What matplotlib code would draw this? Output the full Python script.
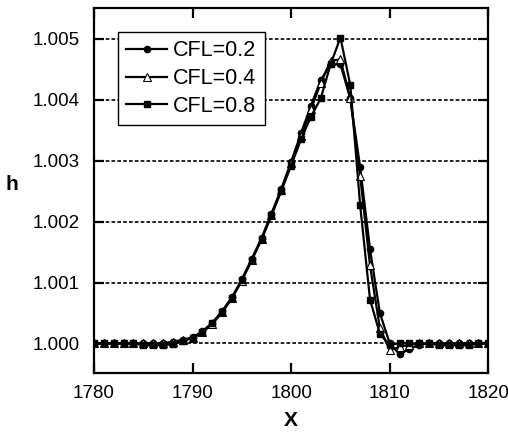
import matplotlib
matplotlib.use("Agg")
import matplotlib.pyplot as plt
from matplotlib.ticker import FormatStrFormatter

plt.rcParams['font.family'] = ['Liberation Sans', 'DejaVu Sans']

x = list(range(1780, 1821))

cfl_02 = [1.0000] * 8 + [
    1.00003, 1.00006, 1.00010, 1.00020, 1.00034, 1.00053, 1.00076, 1.00105,
    1.00139, 1.00173, 1.00213, 1.00254, 1.00298, 1.00345, 1.00390, 1.00432,
    1.00458, 1.00458, 1.00402, 1.00289, 1.00155, 1.00050, 1.00000, 0.99982,
    0.99991, 0.99998] + [1.0000] * 7

cfl_04 = [1.0000] * 8 + [
    1.00002, 1.00005, 1.00009, 1.00018, 1.00032, 1.00051, 1.00074, 1.00103,
    1.00137, 1.00171, 1.00211, 1.00252, 1.00296, 1.00340, 1.00384, 1.00427,
    1.00464, 1.00466, 1.00402, 1.00275, 1.00128, 1.00025, 0.99989, 0.99994,
    0.99998, 1.00000] + [1.0000] * 7

cfl_08 = [1.0000] * 5 + [0.99997, 0.99997, 0.99997] + [
    0.99999, 1.00004, 1.00009, 1.00019, 1.00033, 1.00052, 1.00075, 1.00104,
    1.00137, 1.00171, 1.00210, 1.00250, 1.00292, 1.00335, 1.00372, 1.00402,
    1.00458, 1.00502, 1.00424, 1.00227, 1.00072, 1.00016, 0.99997, 1.00001,
    1.00000, 1.00000] + [1.0000, 0.99997, 0.99997, 0.99997, 0.99997, 1.0000, 1.0000]

labels = ['CFL=0.2', 'CFL=0.4', 'CFL=0.8']
x_ticks = [1780, 1790, 1800, 1810, 1820]
y_ticks = [1.000, 1.001, 1.002, 1.003, 1.004, 1.005]

fig = plt.figure(figsize=(5.08, 4.32), dpi=100)
ax = fig.add_axes([94/508, 1 - 372.7/432, (488.3 - 94)/508, (372.7 - 8.3)/432])

ax.plot(x, cfl_02, color='black', lw=1.6, marker='o', ms=4.5,
        mfc='black', mec='black', label=labels[0], zorder=3)
ax.plot(x, cfl_04, color='black', lw=1.6, marker='^', ms=5.5,
        mfc='white', mec='black', mew=0.8, label=labels[1], zorder=4)
ax.plot(x, cfl_08, color='black', lw=1.6, marker='s', ms=4,
        mfc='black', mec='black', label=labels[2], zorder=5)

ax.set_xlim(1780, 1820)
ax.set_ylim(0.99952, 1.0055)
ax.set_xticks(x_ticks)
ax.set_yticks(y_ticks)
ax.yaxis.set_major_formatter(FormatStrFormatter('%.3f'))

ax.yaxis.grid(True, color='black', linestyle=(0, (2.2, 1.3)), lw=1.2)
ax.xaxis.grid(False)
ax.set_axisbelow(True)

for sp in ax.spines.values():
    sp.set_linewidth(1.6)

ax.tick_params(axis='both', direction='in', length=7, width=1.6,
               top=True, right=True, labelsize=13.5)
ax.tick_params(axis='x', pad=9)
ax.tick_params(axis='y', pad=10)

ax.set_xlabel('X', fontsize=15, fontweight='bold', labelpad=6)
ax.set_ylabel('h', fontsize=15, fontweight='bold', rotation=0)
ax.yaxis.set_label_coords(-0.208, 0.49)

leg = ax.legend(loc='upper left', bbox_to_anchor=(0.061, 0.935), fontsize=15.5,
                frameon=True, fancybox=False, shadow=False, edgecolor='black',
                framealpha=1, handlelength=1.9, handletextpad=0.28,
                borderpad=0.38, labelspacing=0.32, borderaxespad=0)
leg.get_frame().set_linewidth(1.0)

fig.savefig('out.png', dpi=100)
